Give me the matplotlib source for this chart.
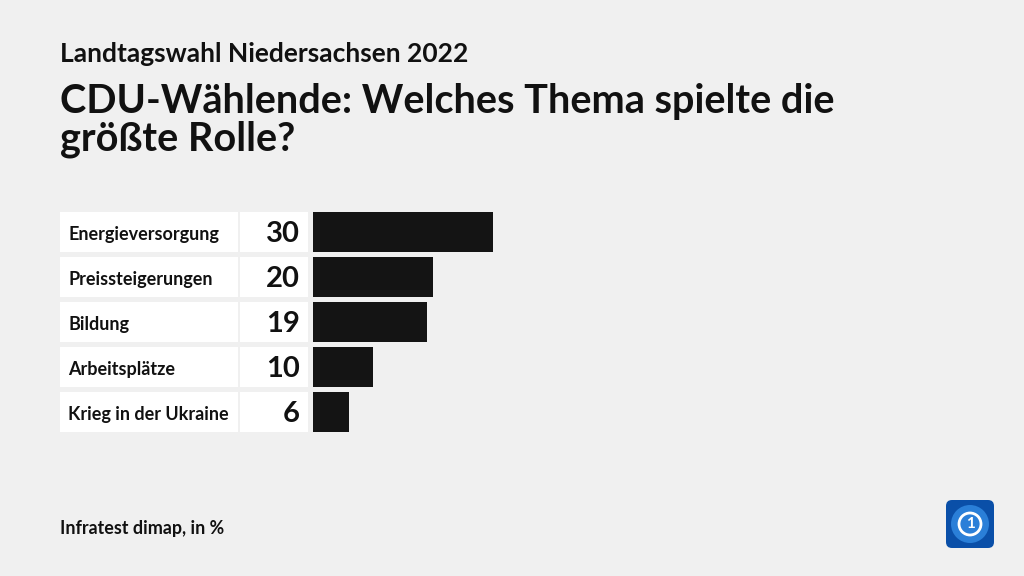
import matplotlib.pyplot as plt
from matplotlib.patches import Rectangle, FancyBboxPatch, Circle

# Data
themen = ["Energieversorgung", "Preissteigerungen", "Bildung", "Arbeitsplätze", "Krieg in der Ukraine"]
werte = [30, 20, 19, 10, 6]

bg = "#f0f0f0"
plt.rcParams["font.family"] = ["Lato", "DejaVu Sans"]

fig = plt.figure(figsize=(10.24, 5.76), dpi=100)
fig.patch.set_facecolor(bg)

# bar area: 6 px per percent point, rows 45 px apart
ax = fig.add_axes([313 / 1024, (576 - 432) / 576, 180 / 1024, 220 / 576])
ax.set_facecolor(bg)
ax.set_xlim(0, 30)
ax.set_ylim(len(themen) - 1 + 0.444, -0.444)
ax.axis("off")

ypos = list(range(len(themen)))
ax.barh(ypos, werte, height=0.889, color="#141414", left=0)

px = 30 / 180  # data units per pixel
for y, name, v in zip(ypos, themen, werte):
    ax.add_patch(Rectangle((-253 * px, y - 0.444), 178 * px, 0.889,
                           facecolor="white", edgecolor="none", clip_on=False))
    ax.add_patch(Rectangle((-73 * px, y - 0.444), 68 * px, 0.889,
                           facecolor="white", edgecolor="none", clip_on=False))
    ax.text(-245 * px, y + 0.05, name, ha="left", va="center", fontsize=13,
            fontweight="bold", color="#111111")
    ax.text(-13 * px, y + 0.04, str(v), ha="right", va="center", fontsize=21,
            fontweight="bold", color="#111111")

# Titles
fig.text(60 / 1024, 1 - 62 / 576, "Landtagswahl Niedersachsen 2022", fontsize=19,
         fontweight="bold", color="#111111", va="baseline")
fig.text(60 / 1024, 1 - 113 / 576, "CDU-Wählende: Welches Thema spielte die", fontsize=28.5,
         fontweight="bold", color="#111111", va="baseline")
fig.text(60 / 1024, 1 - 151 / 576, "größte Rolle?", fontsize=28.5,
         fontweight="bold", color="#111111", va="baseline")

fig.text(60 / 1024, 1 - 534 / 576, "Infratest dimap, in %", fontsize=12.9,
         fontweight="bold", color="#111111", va="baseline")

# Logo
lax = fig.add_axes([945 / 1024, (576 - 549) / 576, 50 / 1024, 50 / 576])
lax.set_xlim(0, 1)
lax.set_ylim(0, 1)
lax.axis("off")
lax.add_patch(FancyBboxPatch((0.02, 0.02), 0.96, 0.96, boxstyle="round,pad=0,rounding_size=0.12",
                             facecolor="#0a4fa8", edgecolor="none"))
lax.add_patch(Circle((0.5, 0.5), 0.38, facecolor="#2a7fd8", edgecolor="none"))
lax.add_patch(Circle((0.5, 0.5), 0.22, facecolor="none", edgecolor="white", linewidth=2))
lax.text(0.5, 0.5, "1", ha="center", va="center", color="white", fontsize=11, fontweight="bold")

fig.savefig("out.png", dpi=100, facecolor=bg)
